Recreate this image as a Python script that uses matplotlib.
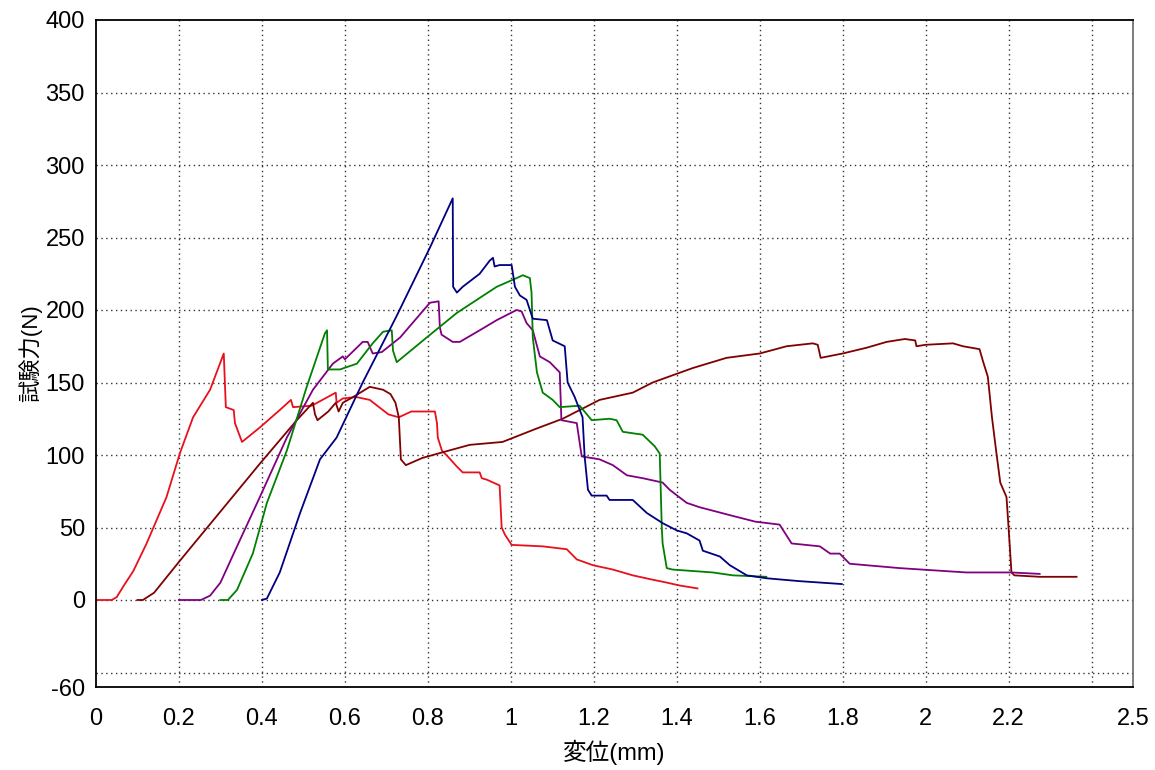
import matplotlib
matplotlib.use('Agg')
import matplotlib.pyplot as plt

plt.rcParams['font.family'] = ['Liberation Sans', 'Noto Sans CJK JP', 'DejaVu Sans']
plt.rcParams['axes.unicode_minus'] = False

# curves: (displacement mm, force N)
red = [(0, 0), (0.038, 0), (0.05, 2), (0.065, 9), (0.09, 20), (0.122, 39), (0.17, 71), (0.202, 101),
       (0.234, 126), (0.275, 145), (0.308, 170), (0.313, 133), (0.332, 131), (0.335, 122),
       (0.352, 109), (0.395, 119), (0.443, 131), (0.47, 138), (0.475, 133), (0.52, 134),
       (0.578, 143), (0.58, 136), (0.595, 139), (0.627, 140), (0.66, 138), (0.705, 128),
       (0.73, 126), (0.76, 130), (0.817, 130), (0.822, 122), (0.824, 112), (0.834, 103),
       (0.848, 99), (0.87, 92), (0.884, 88), (0.925, 88), (0.93, 84), (0.942, 83), (0.973, 79),
       (0.978, 50), (0.986, 45), (1.002, 38), (1.077, 37), (1.135, 35), (1.159, 28),
       (1.198, 24), (1.246, 21), (1.294, 17), (1.342, 14), (1.376, 12), (1.407, 10), (1.45, 8)]

brown = [(0.1, 0), (0.113, 0), (0.14, 5), (0.202, 27), (0.3, 61), (0.395, 94), (0.484, 124),
         (0.523, 136), (0.528, 128), (0.534, 124), (0.56, 130), (0.578, 136), (0.585, 130),
         (0.595, 136), (0.62, 140), (0.66, 147), (0.692, 145), (0.71, 142), (0.722, 136),
         (0.73, 126), (0.735, 97), (0.747, 93), (0.787, 98), (0.85, 103), (0.901, 107),
         (0.98, 109), (1.06, 118), (1.125, 125), (1.214, 138), (1.294, 143), (1.342, 150),
         (1.4, 156), (1.439, 160), (1.52, 167), (1.6, 170), (1.665, 175), (1.728, 177),
         (1.74, 176), (1.747, 167), (1.8, 170), (1.858, 174), (1.906, 178), (1.95, 180),
         (1.975, 179), (1.978, 175), (2.0, 176), (2.066, 177), (2.09, 175), (2.13, 173),
         (2.138, 165), (2.15, 154), (2.16, 126), (2.17, 103), (2.18, 81), (2.195, 71),
         (2.2, 50), (2.207, 19), (2.214, 17), (2.275, 16), (2.364, 16)]

purple = [(0.2, 0), (0.253, 0), (0.275, 3), (0.3, 12), (0.34, 37), (0.395, 71), (0.46, 112),
          (0.523, 145), (0.571, 163), (0.595, 168), (0.6, 166), (0.643, 178), (0.655, 178),
          (0.667, 170), (0.689, 171), (0.733, 181), (0.805, 205), (0.826, 206), (0.829, 188),
          (0.833, 183), (0.86, 178), (0.877, 178), (0.925, 186), (0.966, 193), (1.014, 200),
          (1.026, 199), (1.038, 191), (1.053, 186), (1.07, 168), (1.094, 164), (1.118, 157),
          (1.122, 124), (1.159, 122), (1.171, 99), (1.214, 97), (1.246, 93), (1.28, 86),
          (1.318, 84), (1.366, 81), (1.383, 76), (1.424, 67), (1.455, 64), (1.535, 58),
          (1.59, 54), (1.648, 52), (1.677, 39), (1.745, 37), (1.77, 32), (1.793, 32),
          (1.817, 25), (1.937, 22), (2.098, 19), (2.207, 19), (2.275, 18)]

green = [(0.3, 0), (0.318, 0), (0.34, 7), (0.378, 32), (0.412, 67), (0.46, 103), (0.508, 147),
         (0.552, 184), (0.557, 186), (0.559, 159), (0.588, 159), (0.629, 163), (0.667, 177),
         (0.692, 185), (0.713, 186), (0.716, 172), (0.725, 164), (0.797, 181), (0.87, 198),
         (0.966, 216), (1.014, 222), (1.029, 224), (1.046, 222), (1.05, 212), (1.053, 181),
         (1.063, 157), (1.077, 143), (1.101, 138), (1.118, 133), (1.166, 134), (1.195, 124),
         (1.238, 125), (1.255, 124), (1.27, 116), (1.318, 114), (1.347, 106), (1.359, 101),
         (1.364, 50), (1.366, 39), (1.376, 22), (1.39, 21), (1.487, 19), (1.535, 17),
         (1.616, 16)]

navy = [(0.4, 0), (0.412, 1), (0.443, 19), (0.492, 60), (0.54, 97), (0.58, 112), (0.643, 150),
        (0.725, 196), (0.805, 243), (0.86, 277), (0.861, 216), (0.87, 212), (0.884, 216),
        (0.925, 225), (0.949, 234), (0.957, 236), (0.961, 230), (0.973, 231), (1.002, 231),
        (1.01, 216), (1.022, 210), (1.038, 207), (1.053, 194), (1.087, 193), (1.101, 179),
        (1.13, 175), (1.137, 150), (1.154, 140), (1.173, 126), (1.178, 99), (1.186, 76),
        (1.195, 72), (1.231, 72), (1.238, 69), (1.294, 69), (1.328, 60), (1.366, 53),
        (1.4, 48), (1.424, 46), (1.455, 41), (1.463, 34), (1.504, 30), (1.528, 24),
        (1.569, 17), (1.616, 15), (1.696, 13), (1.798, 11)]

# tick labels and grid positions (the software labels the axis ends, grid sits elsewhere)
x_labels = [0, 0.2, 0.4, 0.6, 0.8, 1, 1.2, 1.4, 1.6, 1.8, 2, 2.2, 2.5]
x_grid = [0.2, 0.4, 0.6, 0.8, 1.0, 1.2, 1.4, 1.6, 1.8, 2.0, 2.2, 2.4]
y_labels = [-60, 0, 50, 100, 150, 200, 250, 300, 350, 400]
y_grid = [-50, 0, 50, 100, 150, 200, 250, 300, 350]

fig = plt.figure(figsize=(11.55, 7.7), dpi=100)
ax = fig.add_axes([96 / 1155, 1 - 687 / 770, (1133 - 96) / 1155, (687 - 20) / 770])

series = [(red, '#e8101c'), (brown, '#800000'), (purple, '#800080'),
          (green, '#008000'), (navy, '#000080')]
for pts, col in series:
    xs = [p[0] for p in pts]
    ys = [p[1] for p in pts]
    ax.plot(xs, ys, color=col, linewidth=1.3)

ax.set_xlim(0, 2.5)
ax.set_ylim(-60, 400)

ax.set_xticks(x_labels)
ax.set_xticklabels([str(v) for v in x_labels])
ax.set_yticks(y_labels)
ax.set_xticks(x_grid, minor=True)
ax.set_yticks(y_grid, minor=True)
ax.xaxis.remove_overlapping_locs = False
ax.yaxis.remove_overlapping_locs = False
ax.tick_params(axis='both', which='both', length=0, labelsize=17)
ax.tick_params(axis='x', pad=15)
ax.tick_params(axis='y', pad=8)
ax.grid(which='minor', color='black', linestyle=(0, (1, 2.5)), linewidth=1.0, alpha=0.8)
ax.grid(which='major', visible=False)

for s in ['left', 'bottom', 'top']:
    ax.spines[s].set_color('black')
    ax.spines[s].set_linewidth(1.3)
ax.spines['right'].set_color('#666666')
ax.spines['right'].set_linewidth(1.2)

fig.text(614 / 1155, 1 - 752 / 770, '変位(mm)', ha='center', va='center', fontsize=17)
fig.text(30 / 1155, 1 - 353 / 770, '試験力(N)', ha='center', va='center', fontsize=16, rotation=90)

fig.savefig('out.png', dpi=100)
